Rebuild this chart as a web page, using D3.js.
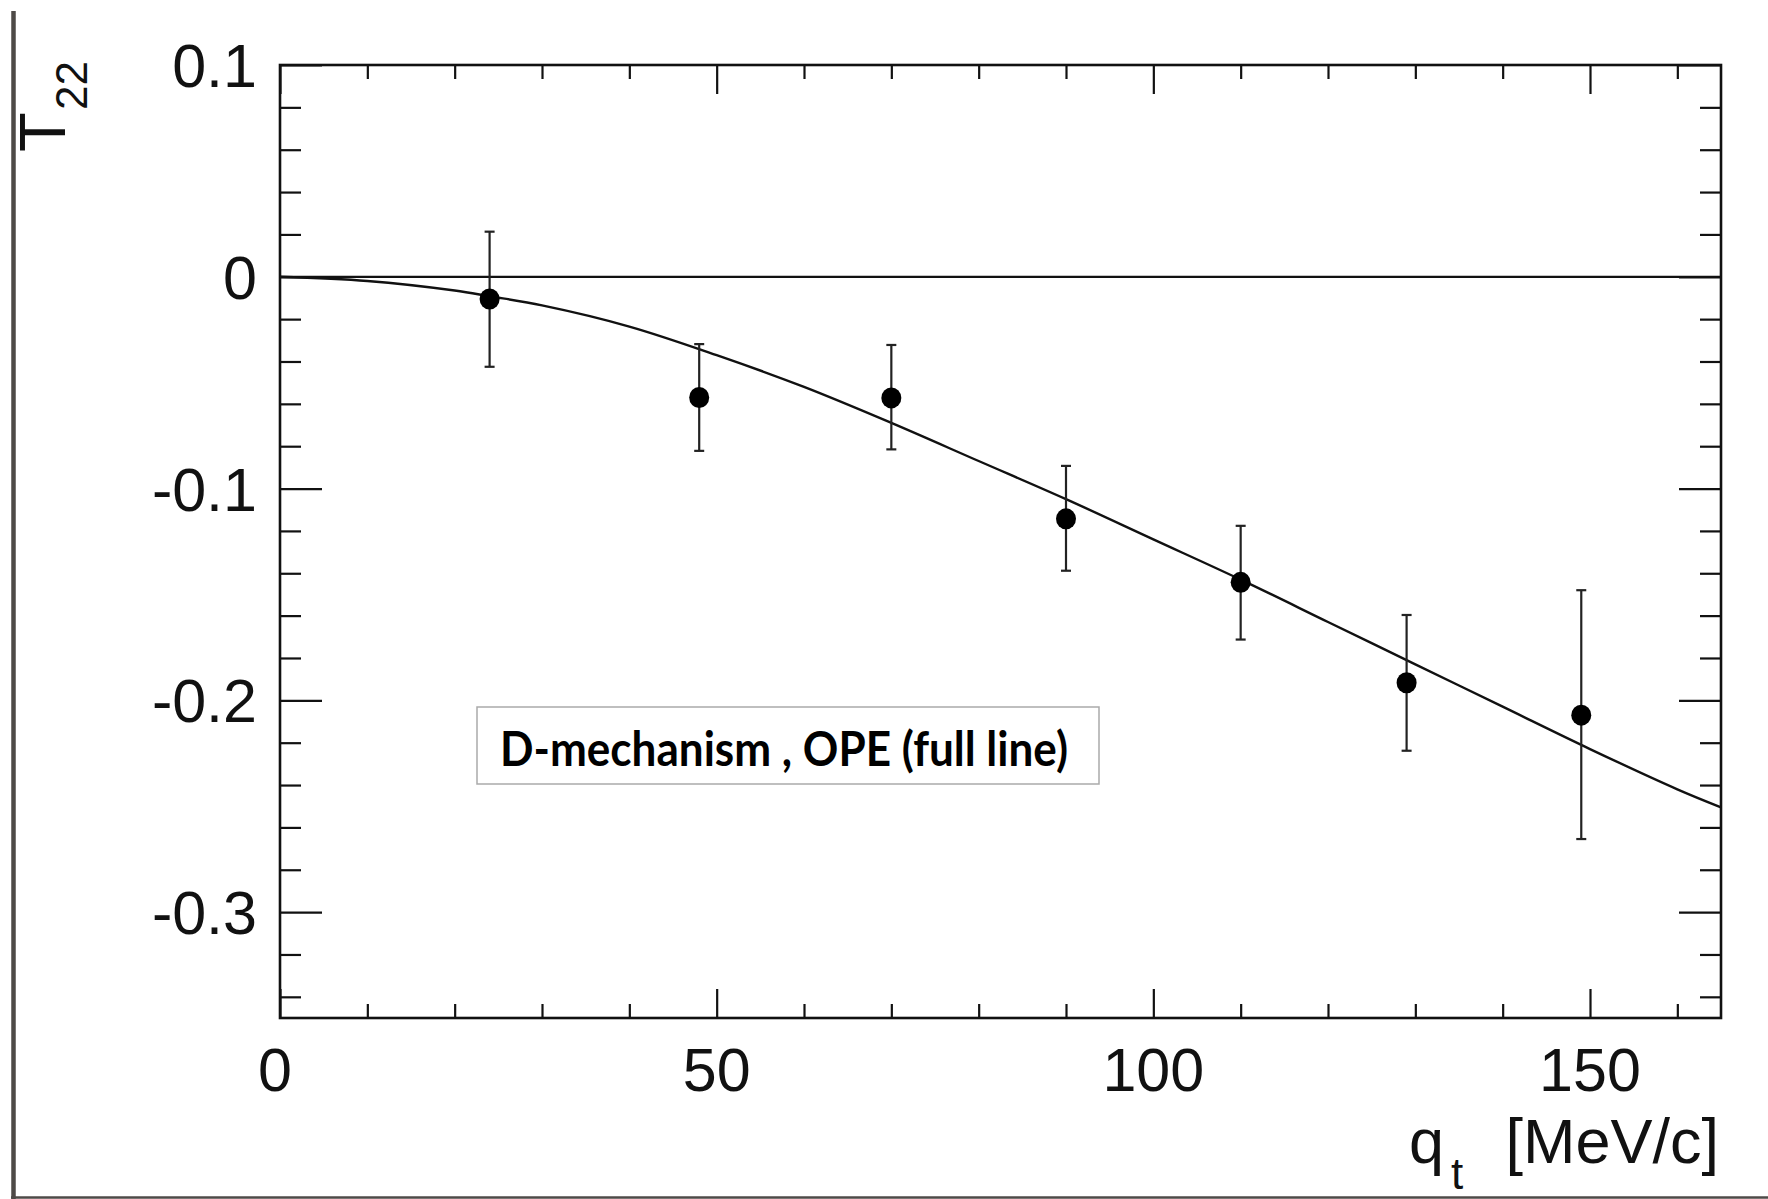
<!DOCTYPE html>
<html>
<head>
<meta charset="utf-8">
<script src="https://cdn.jsdelivr.net/npm/d3@7"></script>
<style>
  html, body { margin: 0; padding: 0; background: #fff; }
  svg { display: block; }
  .axis path { display: none; }
  .axis line { stroke: #111; stroke-width: 2.2; }
</style>
</head>
<body>
<div id="chart"></div>
<script>
// measured points (q_t in MeV/c, T22 with error bar ends)
const qt = [24, 48, 70, 90, 110, 129, 149];
const t22 = [-0.0105, -0.057, -0.0572, -0.1143, -0.1443, -0.1917, -0.207];
const errHigh = [0.0213, -0.0318, -0.0322, -0.0893, -0.1176, -0.1597, -0.148];
const errLow = [-0.0425, -0.0822, -0.0815, -0.1388, -0.1713, -0.2238, -0.2655];

// OPE curve (full line)
const opeQ = [0, 10, 20, 24, 30, 40, 50, 60, 70, 80, 90, 100, 110, 120, 130, 140, 150, 160, 165];
const opeT = [0, -0.002, -0.0065, -0.0092, -0.0135, -0.0235, -0.037, -0.052, -0.069, -0.087,
  -0.105, -0.124, -0.143, -0.163, -0.183, -0.203, -0.223, -0.242, -0.2505];

const xMajor = [0, 50, 100, 150];
const yMajor = [0.1, 0, -0.1, -0.2, -0.3];
const legendText = "D-mechanism , OPE (full line)";

const W = 1768, H = 1199;
const plotL = 280, plotR = 1721, plotT = 65, plotB = 1018;

const svg = d3.select("#chart").append("svg")
  .attr("width", W).attr("height", H);

const x = d3.scaleLinear().domain([0, 165]).range([plotL, plotR]);
const y = d3.scaleLinear().domain([-0.35, 0.1]).range([plotB, plotT]);

// page border lines (left + bottom)
svg.append("line").attr("x1", 13.5).attr("x2", 13.5).attr("y1", 11).attr("y2", H)
  .attr("stroke", "#4e4a47").attr("stroke-width", 4.5);
svg.append("line").attr("x1", 11).attr("x2", W).attr("y1", 1197.5).attr("y2", 1197.5)
  .attr("stroke", "#4e4a47").attr("stroke-width", 2.5);

// ticks
const xMinor = d3.range(0, 166, 10).filter(v => v % 50 !== 0);
const yMinor = d3.range(-34, 10, 2).map(v => v / 100).filter(v => Math.round(v * 100) % 10 !== 0);

function addAxis(axis, tx, ty) {
  svg.append("g").attr("class", "axis").attr("transform", `translate(${tx},${ty})`).call(axis);
}
addAxis(d3.axisBottom(x).tickValues(xMinor).tickSize(-14).tickFormat(""), 0, plotB);
addAxis(d3.axisBottom(x).tickValues(xMajor).tickSize(-29).tickFormat(""), 0, plotB);
addAxis(d3.axisTop(x).tickValues(xMinor).tickSize(-14).tickFormat(""), 0, plotT);
addAxis(d3.axisTop(x).tickValues(xMajor).tickSize(-29).tickFormat(""), 0, plotT);
addAxis(d3.axisLeft(y).tickValues(yMinor).tickSize(-21).tickFormat(""), plotL, 0);
addAxis(d3.axisLeft(y).tickValues(yMajor).tickSize(-42).tickFormat(""), plotL, 0);
addAxis(d3.axisRight(y).tickValues(yMinor).tickSize(-21).tickFormat(""), plotR, 0);
addAxis(d3.axisRight(y).tickValues(yMajor).tickSize(-42).tickFormat(""), plotR, 0);

// frame
svg.append("rect").attr("x", plotL).attr("y", plotT)
  .attr("width", plotR - plotL).attr("height", plotB - plotT)
  .attr("fill", "none").attr("stroke", "#111").attr("stroke-width", 2.6);

// tick labels
const font = "'Liberation Sans', Arial, Helvetica, sans-serif";
svg.selectAll(".ylab").data(yMajor).enter().append("text")
  .attr("x", 257).attr("y", d => y(d))
  .attr("dy", "0.36em")
  .attr("text-anchor", "end")
  .attr("font-family", font).attr("font-size", 61).attr("fill", "#111")
  .text(d => d === 0 ? "0" : d3.format(".1f")(d).replace("−", "-"));

svg.selectAll(".xlab").data(xMajor).enter().append("text")
  .attr("x", d => x(d) - (d === 0 ? 5 : 0)).attr("y", 1091)
  .attr("text-anchor", "middle")
  .attr("font-family", font).attr("font-size", 61).attr("fill", "#111")
  .text(d => d);

// zero line
svg.append("line").attr("x1", x(0)).attr("x2", x(165)).attr("y1", y(0)).attr("y2", y(0))
  .attr("stroke", "#111").attr("stroke-width", 2.2);

// OPE curve
const line = d3.line().x((d, i) => x(opeQ[i])).y(d => y(d)).curve(d3.curveCatmullRom);
svg.append("path").datum(opeT).attr("d", line)
  .attr("fill", "none").attr("stroke", "#111").attr("stroke-width", 2.4);

// error bars
const pts = qt.map((q, i) => ({ q, v: t22[i], hi: errHigh[i], lo: errLow[i] }));
const eb = svg.append("g").attr("stroke", "#222").attr("stroke-width", 2.2);
eb.selectAll(".bar").data(pts).enter().append("line")
  .attr("x1", d => x(d.q)).attr("x2", d => x(d.q))
  .attr("y1", d => y(d.hi)).attr("y2", d => y(d.lo));
eb.selectAll(".capH").data(pts).enter().append("line")
  .attr("x1", d => x(d.q) - 5).attr("x2", d => x(d.q) + 5)
  .attr("y1", d => y(d.hi)).attr("y2", d => y(d.hi));
eb.selectAll(".capL").data(pts).enter().append("line")
  .attr("x1", d => x(d.q) - 5).attr("x2", d => x(d.q) + 5)
  .attr("y1", d => y(d.lo)).attr("y2", d => y(d.lo));

// markers
svg.selectAll(".pt").data(pts).enter().append("ellipse")
  .attr("cx", d => x(d.q)).attr("cy", d => y(d.v))
  .attr("rx", 10).attr("ry", 10.5).attr("fill", "#000");

// legend box
svg.append("rect").attr("x", 477).attr("y", 707).attr("width", 622).attr("height", 77)
  .attr("fill", "#fff").attr("stroke", "#aaa").attr("stroke-width", 1.5);
svg.append("text").attr("x", 500).attr("y", 766)
  .attr("font-family", "Lato, 'Open Sans', sans-serif").attr("font-weight", 700)
  .attr("font-size", 47).attr("fill", "#000")
  .attr("textLength", 568).attr("lengthAdjust", "spacingAndGlyphs")
  .text(legendText);

// x axis title
svg.append("text").attr("x", 1719).attr("y", 1163).attr("text-anchor", "end")
  .attr("font-family", font).attr("font-size", 63).attr("fill", "#111").text("[MeV/c]");
svg.append("text").attr("x", 1409).attr("y", 1163)
  .attr("font-family", font).attr("font-size", 63).attr("fill", "#111").text("q");
svg.append("text").attr("x", 1451).attr("y", 1189)
  .attr("font-family", font).attr("font-size", 44).attr("fill", "#111").text("t");

// y axis title
const yt = svg.append("g").attr("transform", "translate(65,152) rotate(-90)");
yt.append("text").attr("x", 0).attr("y", 0)
  .attr("font-family", font).attr("font-size", 65).attr("fill", "#111").text("T");
yt.append("text").attr("x", 42).attr("y", 22)
  .attr("font-family", font).attr("font-size", 44).attr("fill", "#111").text("22");
</script>
</body>
</html>
